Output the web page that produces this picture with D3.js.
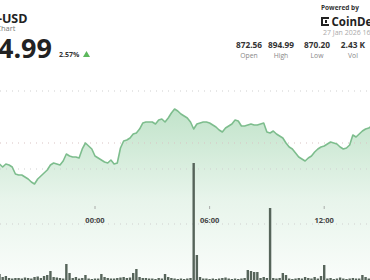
<!DOCTYPE html>
<html>
<head>
<meta charset="utf-8">
<script src="https://cdn.jsdelivr.net/npm/d3@7"></script>
<style>
  html, body { margin: 0; padding: 0; background: #fff; overflow: hidden; }
  svg { display: block; font-family: "Open Sans", sans-serif; }
</style>
</head>
<body>
<div id="chart"></div>
<script>
// 10-minute samples, 26 Jan 19:00 -> 27 Jan 14:30
var startTime = new Date(2026, 0, 26, 19, 0);
var prices = [
  876.10, 875.22, 876.10, 875.81, 875.22, 873.15, 872.86, 872.86, 872.27, 871.68,
  870.79, 870.20, 871.68, 872.56, 873.45, 874.33, 875.81, 876.40, 876.10, 875.81,
  876.99, 879.05, 878.46, 878.17, 878.17, 877.87, 880.53, 882.30, 881.41, 880.53,
  878.46, 877.87, 877.28, 876.69, 876.40, 877.28, 876.10, 876.40, 880.82, 882.89,
  883.18, 883.77, 884.95, 885.25, 886.43, 888.20, 888.49, 888.49, 888.49, 887.90,
  889.08, 889.38, 888.49, 889.67, 891.15, 892.33, 891.74, 890.85, 890.26, 889.67,
  888.49, 886.43, 887.90, 888.20, 888.49, 888.49, 888.20, 887.61, 887.02, 886.13,
  885.54, 886.72, 887.31, 887.90, 889.08, 888.79, 887.31, 887.31, 887.61, 887.90,
  887.61, 887.61, 887.90, 888.20, 885.54, 885.25, 885.84, 884.95, 884.36, 883.77,
  882.30, 881.12, 880.53, 879.35, 878.17, 877.58, 876.99, 877.87, 878.46, 879.64,
  880.53, 881.12, 881.41, 882.00, 882.59, 882.30, 882.00, 881.12, 880.53, 880.82,
  881.71, 884.66, 884.07, 884.95, 885.84, 886.43, 886.72, 887.31
];
var volumes = [
  6, 3, 4, 2, 1.5, 2, 2, 1.5, 2.5, 2,
  1.5, 3, 3.5, 2, 4, 5, 9, 3, 2.5, 2,
  1.5, 16, 7, 2, 3, 1.5, 2, 5, 1.5, 1,
  1.5, 1.5, 6, 3, 2, 1.5, 1.5, 2, 2.5, 3,
  2, 2.5, 7, 11, 3, 2, 2, 1.5, 1.5, 1,
  2, 1.5, 6, 3, 2, 1.5, 1, 1.5, 1, 1.5,
  2, 117, 25, 3, 1.5, 1.5, 1, 1.5, 1, 1.5,
  2, 2.5, 1.5, 1, 1.5, 1, 1.5, 2, 10, 9,
  8, 8, 2, 3, 2, 72, 2, 1.5, 2, 7,
  5, 1.5, 1, 1.5, 2, 1.5, 3, 2, 1.5, 3,
  1.5, 4, 15, 1.5, 2, 1, 1.5, 2.5, 1.5, 1,
  1.5, 2, 1.5, 1.5, 5, 3, 1.5, 2
];
var timeTicks = ["00:00", "06:00", "12:00"];
var statValues = ["872.56", "894.99", "870.20", "2.43 K"];
var statLabels = ["Open", "High", "Low", "Vol"];

var width = 370, height = 280;
var svg = d3.select("#chart").append("svg")
    .attr("width", width)
    .attr("height", height);

var data = prices.map(function (p, i) {
    return { t: new Date(startTime.getTime() + i * 600000), price: p, vol: volumes[i] };
});

var x = d3.scaleTime()
    .domain([startTime, new Date(2026, 0, 27, 14, 30)])
    .range([-0.5, -0.5 + 19.5 * 19.1]);
var y = d3.scaleLinear().domain([870.2, 894.99]).range([184, 100]);
var yVol = d3.scaleLinear().domain([0, 117]).range([280, 163]);

// gradient for area
var defs = svg.append("defs");
var grad = defs.append("linearGradient")
    .attr("id", "areaGrad")
    .attr("gradientUnits", "userSpaceOnUse")
    .attr("x1", 0).attr("y1", 100).attr("x2", 0).attr("y2", 280);
grad.append("stop").attr("offset", "0%").attr("stop-color", "#7cc48f").attr("stop-opacity", 0.5);
grad.append("stop").attr("offset", "55%").attr("stop-color", "#7cc48f").attr("stop-opacity", 0.18);
grad.append("stop").attr("offset", "100%").attr("stop-color", "#7cc48f").attr("stop-opacity", 0.04);

// area + line
var area = d3.area()
    .x(function (d) { return x(d.t); })
    .y0(height)
    .y1(function (d) { return y(d.price); });
svg.append("path").datum(data)
    .attr("d", area)
    .attr("fill", "url(#areaGrad)");

// grid lines
var gridY = [91, 143, 169, 224];
svg.append("g").selectAll("line").data(gridY).enter().append("line")
    .attr("x1", 0).attr("x2", width)
    .attr("y1", function (d) { return d; })
    .attr("y2", function (d) { return d; })
    .attr("stroke", function (d) { return d === 143 ? "#d9c3c3" : "#cfcfcf"; })
    .attr("stroke-width", 1)
    .attr("stroke-dasharray", "1,5");

var line = d3.line()
    .x(function (d) { return x(d.t); })
    .y(function (d) { return y(d.price); });
svg.append("path").datum(data)
    .attr("d", line)
    .attr("fill", "none")
    .attr("stroke", "#7dbd8d")
    .attr("stroke-width", 1.6)
    .attr("stroke-linejoin", "round");

// volume bars
var barW = 2.4;
svg.append("g").selectAll("rect").data(data).enter().append("rect")
    .attr("x", function (d) { return x(d.t) - barW / 2; })
    .attr("y", function (d) { return yVol(d.vol); })
    .attr("width", barW)
    .attr("height", function (d) { return height - yVol(d.vol); })
    .attr("fill", "#56645a");

// time axis
var tickTimes = timeTicks.map(function (s) {
    var hm = s.split(":");
    return new Date(2026, 0, 27, +hm[0], +hm[1]);
});
var gAxis = svg.append("g");
gAxis.selectAll("line").data(tickTimes).enter().append("line")
    .attr("x1", function (d) { return x(d); })
    .attr("x2", function (d) { return x(d); })
    .attr("y1", 206).attr("y2", 209)
    .attr("stroke", "#999").attr("stroke-width", 0.8);
gAxis.selectAll("text").data(tickTimes).enter().append("text")
    .attr("x", function (d) { return x(d); })
    .attr("y", 222.5)
    .attr("text-anchor", "middle")
    .attr("font-size", "7.5px")
    .attr("font-weight", "bold")
    .attr("fill", "#444")
    .text(function (d, i) { return timeTicks[i]; });

// header left (the picture is cropped at the left edge)
svg.append("text")
    .attr("x", 27.5).attr("y", 22.5)
    .attr("text-anchor", "end")
    .attr("font-size", "12.5px").attr("font-weight", "bold").attr("fill", "#222")
    .text("BNB-USD");
svg.append("text")
    .attr("x", 15.5).attr("y", 31)
    .attr("text-anchor", "end")
    .attr("font-size", "7.5px").attr("fill", "#777")
    .text("BNB Chart");
svg.append("text")
    .attr("x", 52).attr("y", 58)
    .attr("text-anchor", "end")
    .attr("font-size", "27px").attr("font-weight", "bold").attr("fill", "#222")
    .text("894.99");
svg.append("text")
    .attr("x", 59).attr("y", 57)
    .attr("font-size", "7px").attr("font-weight", "bold").attr("fill", "#333")
    .text("2.57%");
svg.append("path")
    .attr("d", "M83,57 L86.5,51 L90,57 Z")
    .attr("fill", "#5cb85c");

// header right
svg.append("text")
    .attr("x", 321).attr("y", 9.5)
    .attr("font-size", "6.5px").attr("font-weight", "bold").attr("fill", "#333")
    .text("Powered by");
var logo = svg.append("g").attr("transform", "translate(321,17)");
logo.append("path")
    .attr("d", "M0,0 H8 V2 H2 V7 H8 V9 H0 Z")
    .attr("fill", "#222");
logo.append("rect").attr("x", 4).attr("y", 3).attr("width", 2).attr("height", 3).attr("fill", "#222");
svg.append("text")
    .attr("x", 331.5).attr("y", 25.5)
    .attr("font-size", "11.5px").attr("font-weight", "bold").attr("fill", "#222")
    .text("CoinDesk");
svg.append("text")
    .attr("x", 323).attr("y", 35)
    .attr("font-size", "7px").attr("fill", "#aaa")
    .text("27 Jan 2026 16:40");

var statX = [249, 281, 317, 353];
var gStats = svg.append("g");
gStats.selectAll("text.val").data(statValues).enter().append("text")
    .attr("class", "val")
    .attr("x", function (d, i) { return statX[i]; })
    .attr("y", 47.5)
    .attr("text-anchor", "middle")
    .attr("font-size", "8.3px").attr("font-weight", "bold").attr("fill", "#333")
    .text(function (d) { return d; });
gStats.selectAll("text.lab").data(statLabels).enter().append("text")
    .attr("class", "lab")
    .attr("x", function (d, i) { return statX[i]; })
    .attr("y", 57.5)
    .attr("text-anchor", "middle")
    .attr("font-size", "6.8px").attr("fill", "#888")
    .text(function (d) { return d; });
</script>
</body>
</html>
